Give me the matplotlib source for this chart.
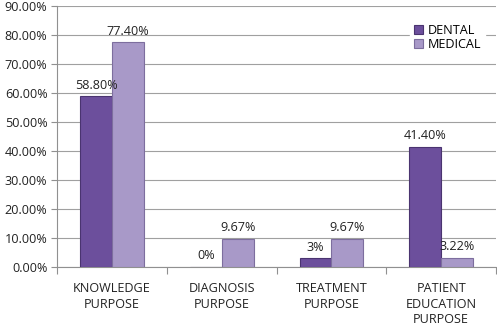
import matplotlib.pyplot as plt
import numpy as np
from matplotlib.ticker import FuncFormatter

plt.rcParams["font.family"] = ["Open Sans", "DejaVu Sans"]
plt.rcParams["font.size"] = 9.1

categories = ["KNOWLEDGE\nPURPOSE", "DIAGNOSIS\nPURPOSE", "TREATMENT\nPURPOSE",
              "PATIENT\nEDUCATION\nPURPOSE"]
dental = [58.80, 0.0, 3.0, 41.40]
medical = [77.40, 9.67, 9.67, 3.22]
dental_labels = ["58.80%", "0%", "3%", "41.40%"]
medical_labels = ["77.40%", "9.67%", "9.67%", "3.22%"]

fig = plt.figure(figsize=(4.97, 3.29), dpi=100)
ax = fig.add_axes([0.115, 0.188, 0.883, 0.794])

x = np.arange(len(categories))
w = 0.29
b1 = ax.bar(x - w / 2, dental, w, color="#6c4f9c", edgecolor="#4a3470",
            linewidth=0.8, label="DENTAL", zorder=3)
b2 = ax.bar(x + w / 2, medical, w, color="#a899c8", edgecolor="#7d6e9e",
            linewidth=0.8, label="MEDICAL", zorder=3)

for bars, labs in ((b1, dental_labels), (b2, medical_labels)):
    for r, lab in zip(bars, labs):
        ax.annotate(lab, (r.get_x() + r.get_width() / 2, r.get_height()),
                    xytext=(0, 3.5), textcoords="offset points",
                    ha="center", va="bottom", color="#222222", zorder=5)

ax.set_xlim(-0.5, 3.5)
ax.set_ylim(0, 90)
ax.set_yticks(np.arange(0, 91, 10))
ax.yaxis.set_major_formatter(FuncFormatter(lambda v, p: "%.2f%%" % v))
ax.grid(axis="y", color="#a0a0a0", linewidth=0.8, zorder=0)

ax.set_xticks([-0.5, 0.5, 1.5, 2.5, 3.5])
ax.set_xticklabels([])
ax.set_xticks(x, minor=True)
ax.set_xticklabels(categories, minor=True, linespacing=1.25)
ax.tick_params(axis="x", which="minor", length=0, pad=11)
ax.tick_params(axis="x", which="major", length=5, color="#909090", direction="out")
ax.tick_params(axis="y", length=4, color="#909090", pad=3, colors="#222222")
ax.tick_params(axis="y", color="#909090")
ax.tick_params(axis="x", which="minor", labelcolor="#222222")

for s in ["top", "right"]:
    ax.spines[s].set_visible(False)
for s in ["left", "bottom"]:
    ax.spines[s].set_color("#909090")

leg = ax.legend(loc="upper right", bbox_to_anchor=(0.99, 0.97), frameon=True,
                fancybox=False, edgecolor="white", framealpha=1,
                handlelength=0.7, handleheight=0.7, handletextpad=0.4,
                borderpad=0.3, labelspacing=0.1)

fig.savefig("out.png", dpi=100)
